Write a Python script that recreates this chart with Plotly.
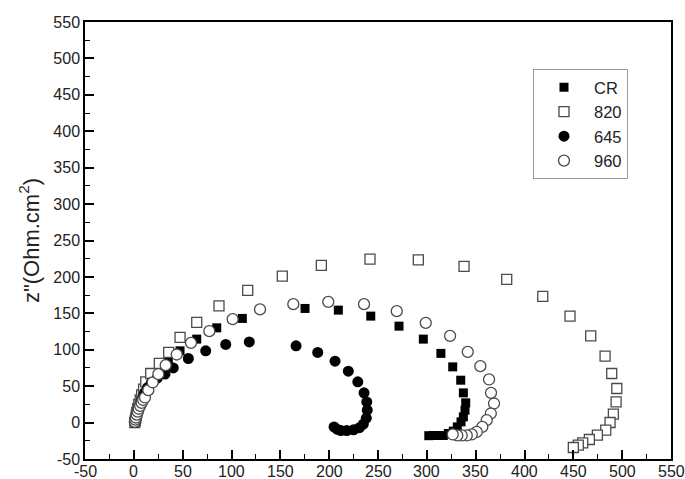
import plotly.graph_objects as go

# Nyquist data, Z' (Ohm.cm2) vs Z'' (Ohm.cm2)
cr_x = [1.5, 2.0, 2.5, 3.0, 4.0, 5.0, 6.5, 8.0, 10.0, 13.0, 16.0, 20.0, 26.1, 35.3, 47.3, 64.4, 84.9,
        111.1, 175.3, 209.4, 242.6, 271.5, 296.4, 314.4, 326.5, 334.7, 337.4, 339.8, 339.1, 337.4,
        335.0, 331.2, 327.1, 322.0, 316.9, 311.8, 306.7, 302.0]
cr_y = [1.0, 4.0, 8.0, 12.0, 17.0, 23.0, 29.0, 36.0, 43.0, 51.0, 58.0, 63.0, 70.6, 83.4, 98.5, 114.6,
        130.1, 143.0, 156.7, 154.4, 146.2, 132.4, 114.6, 95.0, 76.5, 58.2, 40.8, 27.1, 17.0, 7.8,
        1.0, -5.9, -11.8, -15.0, -17.7, -17.7, -17.7, -18.0]

s820_x = [1.0, 1.5, 2.0, 2.5, 3.0, 4.0, 5.0, 6.5, 8.0, 10.0, 12.2, 17.3, 26.1, 35.7, 47.3, 64.4, 87.2,
          116.6, 152.0, 192.0, 241.8, 291.3, 338.1, 381.8, 418.7, 446.6, 467.8, 482.5, 489.3, 494.5,
          493.8, 491.0, 487.6, 483.2, 474.6, 466.4, 459.6, 455.1, 450.0]
s820_y = [0.0, 3.0, 6.0, 10.0, 14.0, 19.0, 25.0, 31.0, 38.0, 46.0, 55.9, 67.4, 81.2, 96.3, 116.9, 137.5,
          160.3, 181.5, 201.1, 215.8, 224.5, 223.5, 214.4, 196.6, 173.2, 146.2, 119.1, 91.2, 67.4,
          46.8, 28.4, 11.5, 0.1, -10.4, -17.3, -23.2, -27.9, -31.0, -34.2]

s645_x = [1.0, 1.5, 2.0, 3.0, 4.0, 5.0, 7.0, 9.0, 11.0, 14.0, 18.0, 24.0, 31.9, 40.4, 55.8, 73.6, 94.1,
          118.2, 166.1, 188.3, 206.0, 219.6, 229.3, 235.7, 238.5, 239.0, 238.0, 235.0, 231.0, 225.0,
          218.0, 212.0, 208.0, 205.0]
s645_y = [0.0, 3.0, 7.0, 11.0, 16.0, 21.0, 27.0, 34.0, 41.0, 48.0, 55.0, 61.0, 66.6, 75.1, 88.0, 98.5,
          107.3, 110.8, 105.4, 96.3, 84.3, 70.6, 55.9, 40.8, 28.4, 17.0, 6.0, -2.0, -7.0, -10.0,
          -11.0, -11.0, -9.0, -6.0]

s960_x = [1.0, 1.5, 2.0, 3.0, 4.0, 5.0, 6.5, 8.0, 9.5, 11.4, 14.8, 19.3, 25.1, 32.6, 43.9, 58.5, 77.3,
          101.2, 129.2, 163.3, 199.1, 235.7, 269.2, 298.9, 323.8, 341.9, 354.8, 363.7, 365.7, 368.8,
          365.5, 361.3, 356.8, 351.1, 346.0, 340.9, 335.7, 331.2, 326.5]
s960_y = [1.0, 4.0, 7.0, 11.0, 15.0, 19.0, 23.0, 27.0, 31.0, 34.5, 44.5, 55.1, 66.5, 78.8, 93.5, 109.5,
          125.5, 142.0, 155.4, 162.6, 165.8, 162.6, 153.0, 136.9, 119.1, 97.1, 77.5, 59.2, 40.8,
          26.2, 12.5, 3.3, -5.9, -12.8, -16.3, -17.7, -17.7, -17.7, -16.3]

x_ticks = list(range(-50, 551, 50))
y_ticks = list(range(-50, 551, 50))

FONT = "Liberation Sans, Arial, sans-serif"
OUTLINE = "#4a4a4a"
TEXT = "#222222"

fig = go.Figure()
fig.add_trace(go.Scatter(
    x=cr_x, y=cr_y, mode="markers", name="CR",
    marker=dict(symbol="square", size=9, color="black", line=dict(width=0))))
fig.add_trace(go.Scatter(
    x=s820_x, y=s820_y, mode="markers", name="820",
    marker=dict(symbol="square", size=10, color="white", line=dict(width=1.3, color=OUTLINE))))
fig.add_trace(go.Scatter(
    x=s645_x, y=s645_y, mode="markers", name="645",
    marker=dict(symbol="circle", size=11, color="black", line=dict(width=0))))
fig.add_trace(go.Scatter(
    x=s960_x, y=s960_y, mode="markers", name="960",
    marker=dict(symbol="circle", size=11, color="white", line=dict(width=1.3, color=OUTLINE))))

axis_common = dict(
    showgrid=False, zeroline=False, automargin=False,
    showline=True, linecolor="black", linewidth=1.5, mirror=True,
    ticks="inside", ticklen=9, tickwidth=1.5, tickcolor="black",
    minor=dict(ticks="inside", ticklen=5, tickwidth=1.3, tickcolor="black", showgrid=False,
               dtick=25, tick0=-50),
    tickfont=dict(family=FONT, size=16, color=TEXT),
)

# x tick labels sit tight under the frame, so they are placed as annotations on the x scale
fig.update_xaxes(range=[-50, 550], tickvals=x_ticks, showticklabels=False, **axis_common)
fig.update_yaxes(range=[-50, 550], tickvals=y_ticks, ticktext=[str(v) for v in y_ticks],
                 title=dict(text='z"(Ohm.cm<sup>2</sup>)', font=dict(family=FONT, size=22, color=TEXT),
                            standoff=8),
                 **axis_common)

for v in x_ticks:
    fig.add_annotation(x=v, xref="x", y=0, yref="paper", yanchor="top", yshift=-2,
                       text=str(v), showarrow=False,
                       font=dict(family=FONT, size=16, color=TEXT))

fig.update_layout(
    width=685, height=479,
    margin=dict(l=85, r=14, t=22, b=20),
    paper_bgcolor="white", plot_bgcolor="white",
    font=dict(family=FONT, color=TEXT),
    showlegend=True,
    legend=dict(
        x=0.7645, y=0.8924, xanchor="left", yanchor="top",
        bgcolor="white", bordercolor="#999999", borderwidth=1,
        font=dict(family=FONT, size=16.5, color=TEXT),
        itemwidth=50, tracegroupgap=0,
    ),
)

fig.write_html("out.html")
